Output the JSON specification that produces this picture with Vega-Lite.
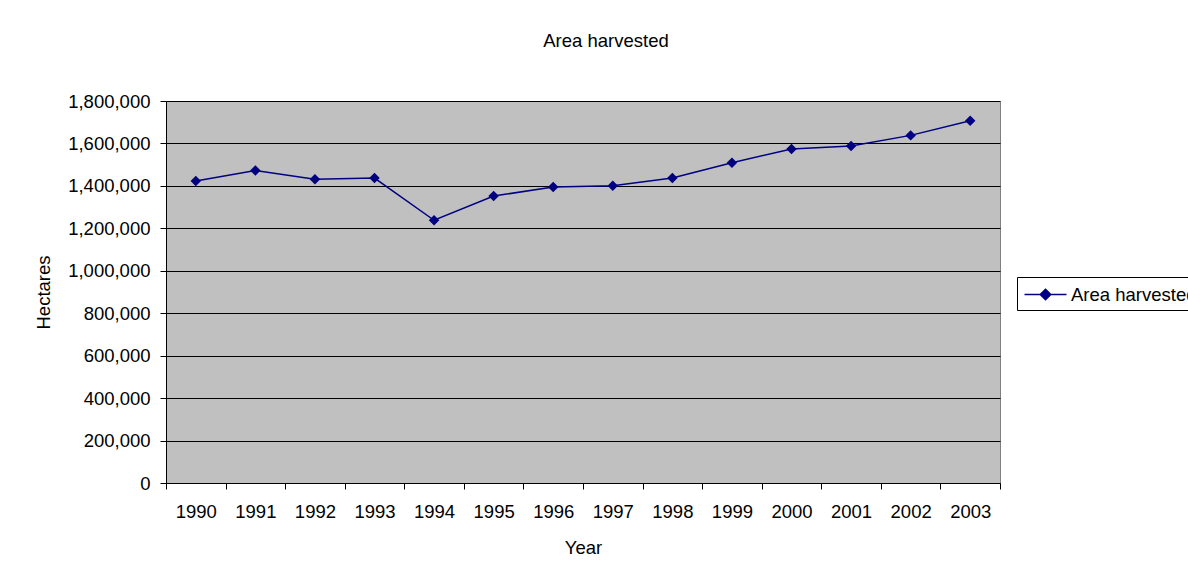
{
  "$schema": "https://vega.github.io/schema/vega-lite/v6.json",
  "autosize": {"type": "none"},
  "width": 834,
  "height": 382,
  "padding": {"left": 166, "top": 101, "right": 188, "bottom": 91},
  "background": "white",
  "title": {
    "text": "Area harvested",
    "font": "Liberation Sans",
    "fontSize": 18.5,
    "fontWeight": "normal",
    "color": "black",
    "anchor": "middle",
    "dx": 23,
    "offset": 42
  },
  "data": {
    "values": [
      {"year": "1990", "area": 1423000, "series": "Area harvested"},
      {"year": "1991", "area": 1473000, "series": "Area harvested"},
      {"year": "1992", "area": 1431000, "series": "Area harvested"},
      {"year": "1993", "area": 1437000, "series": "Area harvested"},
      {"year": "1994", "area": 1238000, "series": "Area harvested"},
      {"year": "1995", "area": 1352000, "series": "Area harvested"},
      {"year": "1996", "area": 1395000, "series": "Area harvested"},
      {"year": "1997", "area": 1401000, "series": "Area harvested"},
      {"year": "1998", "area": 1437000, "series": "Area harvested"},
      {"year": "1999", "area": 1509000, "series": "Area harvested"},
      {"year": "2000", "area": 1574000, "series": "Area harvested"},
      {"year": "2001", "area": 1588000, "series": "Area harvested"},
      {"year": "2002", "area": 1638000, "series": "Area harvested"},
      {"year": "2003", "area": 1707000, "series": "Area harvested"}
    ]
  },
  "mark": {
    "type": "line",
    "strokeWidth": 1.5,
    "point": {"shape": "diamond", "filled": true, "size": 110, "opacity": 1}
  },
  "encoding": {
    "x": {
      "field": "year",
      "type": "ordinal",
      "title": "Year",
      "scale": {"paddingInner": 0, "paddingOuter": 0},
      "axis": {
        "labelAngle": 0,
        "tickBand": "extent",
        "tickSize": 6,
        "tickColor": "black",
        "domainColor": "black",
        "labelPadding": 13,
        "titlePadding": 18
      }
    },
    "y": {
      "field": "area",
      "type": "quantitative",
      "title": "Hectares",
      "scale": {"domain": [0, 1800000], "nice": false},
      "axis": {
        "values": [0, 200000, 400000, 600000, 800000, 1000000, 1200000, 1400000, 1600000, 1800000],
        "format": ",d",
        "tickSize": 6,
        "tickColor": "black",
        "domainColor": "black",
        "gridColor": "black",
        "gridOpacity": 1,
        "labelPadding": 10,
        "titlePadding": 14
      }
    },
    "color": {
      "field": "series",
      "type": "nominal",
      "scale": {"domain": ["Area harvested"], "range": ["#000080"]},
      "legend": {
        "title": null,
        "orient": "none",
        "legendX": 851,
        "legendY": 176,
        "strokeColor": "black",
        "fillColor": "white",
        "padding": 6,
        "symbolType": "M-2,0H2M0,-0.5L0.5,0L0,0.5L-0.5,0Z",
        "symbolSize": 441,
        "symbolOffset": 11,
        "symbolStrokeWidth": 1.5,
        "symbolStrokeColor": "#000080",
        "symbolFillColor": "#000080",
        "labelFont": "Liberation Sans",
        "labelFontSize": 18.5,
        "labelColor": "black",
        "labelOffset": 14,
        "labelLimit": 0
      }
    }
  },
  "config": {
    "view": {"fill": "#C0C0C0", "stroke": "#808080", "strokeWidth": 1},
    "axis": {
      "labelFont": "Liberation Sans",
      "labelFontSize": 18.5,
      "labelColor": "black",
      "titleFont": "Liberation Sans",
      "titleFontSize": 18.5,
      "titleFontWeight": "normal",
      "titleColor": "black",
      "grid": false
    },
    "axisY": {"grid": true}
  }
}
